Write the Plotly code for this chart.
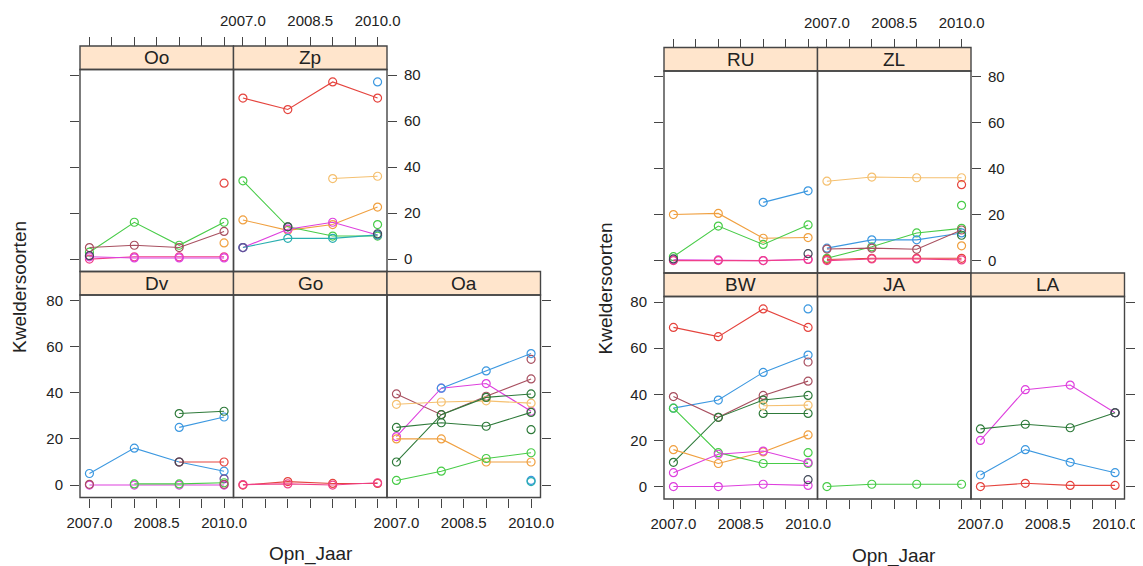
import plotly.graph_objects as go

# ---------------- data ----------------
YEARS = [2007, 2008, 2009, 2010]
X_TICKS = [2007.0, 2007.5, 2008.0, 2008.5, 2009.0, 2009.5, 2010.0]
X_TICK_LABELS = ["2007.0", "", "", "2008.5", "", "", "2010.0"]
Y_TICKS = [0, 20, 40, 60, 80]
Y_TICK_LABELS = ["0", "20", "40", "60", "80"]
X_RANGE = [2006.79, 2010.21]
Y_RANGE = [-5.4, 82.4]

COLORS = {
    "red": "#E5443E",
    "orange": "#F0A040",
    "ltorange": "#F5C070",
    "green": "#48CC48",
    "dkgreen": "#2E7A3A",
    "blue": "#3C98E0",
    "cyan": "#2AAFB0",
    "magenta": "#DE40DE",
    "pink": "#F0408A",
    "brown": "#A85060",
    "dark": "#404858",
    "purple": "#6A4C98",
}

# left lattice
OO = {
    "green": [3, 16, 6, 16],
    "brown": [5, 6, 5, 12],
    "red": [None, None, None, 33],
    "orange": [None, None, None, 7],
    "pink": [0, 1, 1, 1],
    "magenta": [1, 0.5, 0.5, 0.5],
    "dark": [1.5, None, None, None],
}
ZP = {
    "red": [70, 65, 77, 70],
    "blue": [None, None, None, 77],
    "ltorange": [None, None, 35, 36],
    "orange": [17, 12.5, 15, 22.6],
    "green": [34, 14, 10, 10],
    "green_b": [None, None, None, 15],
    "magenta": [5, 13, 16, 10.5],
    "cyan": [5, 9, 9, 10.5],
    "dark": [None, 14, None, 11],
    "purple": [5, None, None, None],
}
DV = {
    "blue": [5, 16, 10, 6],
    "blue_b": [None, None, 25, 29.5],
    "dkgreen": [None, None, 31, 32],
    "red": [None, None, 10, 10],
    "dark": [None, None, 10, None],
    "purple": [None, None, None, 2.7],
    "magenta": [0, 0, 0, 0],
    "green": [None, 0.5, 0.5, 1],
    "brown": [0.3, None, None, 0.3],
}
GO = {
    "red": [0, 1.5, 0.7, 0.7],
    "pink": [0.2, 0.5, 0, 1],
}
OA = {
    "brown": [39.5, 30.5, 38.5, 46],
    "brown_b": [None, None, None, 54.5],
    "magenta": [21, 42, 44, 32],
    "blue": [None, 42, 49.5, 57],
    "ltorange": [35, 36, 36.5, 35.5],
    "dkgreen": [25, 27, 25.5, 31.5],
    "dkgreen_b": [10, 30.5, 38, 39.5],
    "dkgreen_c": [None, None, None, 24],
    "orange": [20, 20, 10, 10],
    "green": [2, 6, 11.5, 14],
    "blue_b": [None, None, None, 2],
    "cyan": [None, None, None, 1.5],
}

# right lattice
RU = {
    "orange": [20, 20.5, 9.7, 10],
    "green": [1.7, 15, 7, 15.5],
    "blue": [None, None, 25.3, 30.3],
    "magenta": [0.3, 0.3, 0, 0.5],
    "pink": [0, 0, 0, 0.5],
    "dark": [0.7, None, None, 3],
}
ZL = {
    "ltorange": [34.5, 36.3, 36, 36],
    "red": [None, None, None, 33],
    "green_b": [None, None, None, 24],
    "green": [1, 6, 12, 14],
    "blue": [5.4, 9, 9, 12],
    "brown": [5, 5.4, 4.9, 13.3],
    "dkgreen": [None, None, None, 11],
    "orange": [None, None, None, 6.4],
    "red_b": [0.5, 1, 1, 1],
    "pink": [0, 0.7, 0.7, 0.3],
}
BW = {
    "red": [69, 65, 77, 69],
    "blue_b": [None, None, None, 77],
    "blue": [34, 37.5, 49.5, 57],
    "brown": [39, 30, 39.5, 45.7],
    "brown_b": [None, None, None, 54],
    "dkgreen": [10.5, 30, 37.5, 39.5],
    "dkgreen_b": [None, None, 31.7, 31.7],
    "ltorange": [None, None, 35, 35.3],
    "orange": [16, 10, 15, 22.4],
    "green": [34, 14.7, 10, 10],
    "green_b": [None, None, None, 14.7],
    "magenta": [6, 14, 15.4, 10.4],
    "magenta_b": [0, 0, 1, 0.5],
    "dark": [None, None, None, 3],
}
JA = {
    "green": [0, 1, 1, 1],
}
LA = {
    "magenta": [20, 42, 44, 32],
    "dkgreen": [25, 27, 25.5, 32],
    "blue": [5, 16, 10.5, 6],
    "red": [0, 1.4, 0.5, 0.5],
    "dark": [None, None, None, 32],
}

LEFT_PANELS = [("Oo", OO, "top", 0), ("Zp", ZP, "top", 1),
               ("Dv", DV, "bottom", 0), ("Go", GO, "bottom", 1), ("Oa", OA, "bottom", 2)]
RIGHT_PANELS = [("RU", RU, "top", 0), ("ZL", ZL, "top", 1),
                ("BW", BW, "bottom", 0), ("JA", JA, "bottom", 1), ("LA", LA, "bottom", 2)]

# ---------------- layout geometry (pixels in the screenshot) ----------------
W, H = 1143, 566
OFF = 8  # page body margin shifts the figure by 8px
COLW = 153.5
ROWS = {
    "top": dict(strip_top=46, strip_bot=69.5, panel_bot=271.5),
    "bottom": dict(strip_top=271.5, strip_bot=295, panel_bot=497.5),
}
LATTICES = [
    dict(panels=LEFT_PANELS, x0=80, dy=0, ylab_x=19, xlab_x=310.7),
    dict(panels=RIGHT_PANELS, x0=664, dy=1.5, ylab_x=605, xlab_x=894),
]
FONT = "Liberation Sans, Arial, sans-serif"
FRAME = "#454545"
TEXTC = "#222222"
TICKSIZE = 15
LABSIZE = 19


def pxx(v):
    return (v - OFF) / W


def pxy(v):
    return 1 - (v - OFF) / H


fig = go.Figure()
layout = {}
shapes = []
annotations = []
idx = 0
for lat in LATTICES:
    last_col = {"top": max(p[3] for p in lat["panels"] if p[2] == "top"),
                "bottom": max(p[3] for p in lat["panels"] if p[2] == "bottom")}
    for name, data, row, col in lat["panels"]:
        idx += 1
        suf = "" if idx == 1 else str(idx)
        xa, ya = f"x{suf}", f"y{suf}"
        r = ROWS[row]
        st, sb, pb = r["strip_top"] + lat["dy"], r["strip_bot"] + lat["dy"], r["panel_bot"] + lat["dy"]
        left = lat["x0"] + col * COLW
        right = left + COLW

        for key, vals in data.items():
            c = COLORS[key.split("_")[0]]
            fig.add_trace(go.Scatter(
                x=YEARS, y=vals, mode="lines+markers", xaxis=xa, yaxis=ya,
                line=dict(color=c, width=1.1),
                marker=dict(symbol="circle-open", size=8, color=c, line=dict(width=1.2)),
                showlegend=False, connectgaps=False, name=key,
            ))

        xcfg = dict(domain=[pxx(left), pxx(right)], range=X_RANGE, tickvals=X_TICKS,
                    ticktext=X_TICK_LABELS, showgrid=False, zeroline=False, showline=False,
                    ticks="outside", ticklen=9, tickcolor=FRAME, tickwidth=1, automargin=False,
                    tickfont=dict(family=FONT, size=TICKSIZE, color=TEXTC))
        if row == "bottom":
            xcfg.update(anchor=ya, side="bottom", showticklabels=(col in (0, 2)),
                        ticklabelstandoff=2)
        else:
            xcfg.update(anchor="free", position=pxy(st), side="top", showticklabels=(col == 1),
                        ticklabelstandoff=5)
        layout[f"xaxis{suf}"] = xcfg

        ycfg = dict(domain=[pxy(pb), pxy(sb)], range=Y_RANGE, tickvals=Y_TICKS,
                    ticktext=Y_TICK_LABELS, showgrid=False, zeroline=False, showline=False,
                    anchor=xa, ticklen=9, tickcolor=FRAME, tickwidth=1, automargin=False,
                    ticklabelstandoff=4,
                    tickfont=dict(family=FONT, size=TICKSIZE, color=TEXTC))
        if col == 0:
            ycfg.update(side="left", ticks="outside", showticklabels=(row == "bottom"))
        elif col == last_col[row]:
            ycfg.update(side="right", ticks="outside", showticklabels=(row == "top"))
        else:
            ycfg.update(ticks="", showticklabels=False)
        layout[f"yaxis{suf}"] = ycfg

        # panel frame
        shapes.append(dict(type="rect", xref=f"{xa} domain", yref=f"{ya} domain",
                           x0=0, x1=1, y0=0, y1=1, line=dict(color=FRAME, width=1.4),
                           fillcolor="rgba(0,0,0,0)", layer="above"))
        # strip
        shapes.append(dict(type="rect", xref=f"{xa} domain", yref="paper",
                           x0=0, x1=1, y0=pxy(sb), y1=pxy(st), line=dict(color=FRAME, width=1.4),
                           fillcolor="#FFE5CC", layer="below"))
        annotations.append(dict(text=name, xref=f"{xa} domain", yref="paper", x=0.5,
                                y=pxy((st + sb) / 2), showarrow=False, xanchor="center",
                                yanchor="middle", font=dict(family=FONT, size=LABSIZE, color=TEXTC)))

    annotations.append(dict(text="Kweldersoorten", xref="paper", yref="paper",
                            x=pxx(lat["ylab_x"]), y=pxy(287 + lat["dy"]), textangle=-90,
                            showarrow=False, xanchor="center", yanchor="middle",
                            font=dict(family=FONT, size=LABSIZE, color=TEXTC)))
    annotations.append(dict(text="Opn_Jaar", xref="paper", yref="paper",
                            x=pxx(lat["xlab_x"]), y=pxy(554 + lat["dy"]),
                            showarrow=False, xanchor="center", yanchor="middle",
                            font=dict(family=FONT, size=LABSIZE, color=TEXTC)))

fig.update_layout(**layout)
fig.update_layout(width=W, height=H, margin=dict(l=0, r=0, t=0, b=0, pad=0, autoexpand=False),
                  paper_bgcolor="white", plot_bgcolor="white",
                  shapes=shapes, annotations=annotations, showlegend=False)
fig.write_html("out.html")
